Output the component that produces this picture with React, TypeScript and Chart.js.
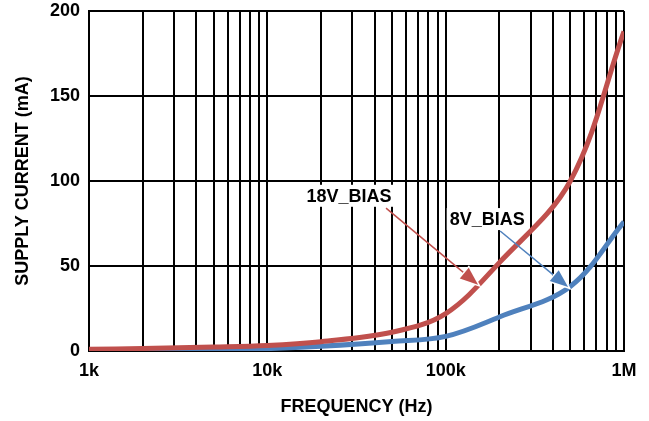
import React, { useEffect, useRef } from "react";
import { Chart, registerables } from "chart.js";

Chart.register(...registerables);

// Frequency points (Hz)
const FREQ_HZ = [1e3, 2e3, 5e3, 1e4, 2e4, 5e4, 1e5, 2e5, 5e5, 1e6];
// Supply current (mA)
const I_18V_BIAS = [1, 1.5, 2.3, 3.2, 5.5, 11, 22, 52, 100, 188];
const I_8V_BIAS = [0.3, 0.5, 0.9, 1.4, 2.8, 5.6, 8.6, 20, 38, 76];

// Axis definitions
const X_DECADES = [1e3, 1e4, 1e5];
const X_MULTIPLIERS = [1, 2, 3, 4, 5, 6, 7, 8, 9];
const X_MAX = 1e6;
const X_TICK_LABELS: Record<number, string> = { 1000: "1k", 10000: "10k", 100000: "100k", 1000000: "1M" };
const Y_MIN = 0;
const Y_MAX = 200;
const Y_STEP = 50;

const X_TITLE = "FREQUENCY (Hz)";
const Y_TITLE = "SUPPLY CURRENT (mA)";

// Callouts: label anchor and arrow (in data units: Hz, mA)
const LABEL_TEXT = ["18V_BIAS", "8V_BIAS"];
const LABEL_AT = [[28700, 91.3], [171000, 77.6]];
const ARROW_FROM = [[46300, 84], [202000, 70.6]];
const ARROW_TO = [[152000, 39], [486000, 37.6]];

const RED = "#C0504D";
const BLUE = "#4F81BD";
const FONT_FAMILY = '"Liberation Sans", Arial, sans-serif';

const gridValues = (): number[] => {
  const v: number[] = [];
  X_DECADES.forEach((d) => X_MULTIPLIERS.forEach((m) => v.push(d * m)));
  v.push(X_MAX);
  return v;
};

const calloutPlugin = {
  id: "callouts",
  afterDatasetsDraw(chart: any) {
    const { ctx } = chart;
    const xs = chart.scales.x;
    const ys = chart.scales.y;
    const colors = [RED, BLUE];
    ctx.save();
    LABEL_TEXT.forEach((text, i) => {
      const color = colors[i];
      const x0 = xs.getPixelForValue(ARROW_FROM[i][0]);
      const y0 = ys.getPixelForValue(ARROW_FROM[i][1]);
      const x1 = xs.getPixelForValue(ARROW_TO[i][0]);
      const y1 = ys.getPixelForValue(ARROW_TO[i][1]);
      const ang = Math.atan2(y1 - y0, x1 - x0);
      const headLen = 18;
      const headW = 7;
      const bx = x1 - headLen * Math.cos(ang);
      const by = y1 - headLen * Math.sin(ang);
      ctx.strokeStyle = color;
      ctx.lineWidth = 1.5;
      ctx.beginPath();
      ctx.moveTo(x0, y0);
      ctx.lineTo(bx, by);
      ctx.stroke();
      ctx.beginPath();
      ctx.moveTo(x1, y1);
      ctx.lineTo(bx + headW * Math.sin(ang), by - headW * Math.cos(ang));
      ctx.lineTo(bx - headW * Math.sin(ang), by + headW * Math.cos(ang));
      ctx.closePath();
      ctx.strokeStyle = "#ffffff";
      ctx.lineWidth = 3;
      ctx.stroke();
      ctx.fillStyle = color;
      ctx.fill();

      // label with white box
      const lx = xs.getPixelForValue(LABEL_AT[i][0]);
      const ly = ys.getPixelForValue(LABEL_AT[i][1]);
      ctx.font = `bold 18px ${FONT_FAMILY}`;
      const w = ctx.measureText(text).width;
      ctx.fillStyle = "#ffffff";
      ctx.fillRect(lx - w / 2 - 3, ly - 11, w + 6, 22);
      ctx.fillStyle = "#000000";
      ctx.textAlign = "center";
      ctx.textBaseline = "middle";
      ctx.fillText(text, lx, ly + 1);
    });
    ctx.restore();
  },
};

export default function App() {
  const canvasRef = useRef<HTMLCanvasElement | null>(null);

  useEffect(() => {
    const canvas = canvasRef.current;
    if (!canvas) return;
    const font = { family: FONT_FAMILY, size: 18, weight: "bold" as const };
    const chart = new Chart(canvas, {
      type: "line",
      data: {
        datasets: [
          {
            label: "18V_BIAS",
            data: FREQ_HZ.map((f, i) => ({ x: f, y: I_18V_BIAS[i] })),
            borderColor: RED,
            backgroundColor: RED,
            borderWidth: 5,
            pointRadius: 0,
            tension: 0.35,
            fill: false,
          },
          {
            label: "8V_BIAS",
            data: FREQ_HZ.map((f, i) => ({ x: f, y: I_8V_BIAS[i] })),
            borderColor: BLUE,
            backgroundColor: BLUE,
            borderWidth: 5,
            pointRadius: 0,
            tension: 0.35,
            fill: false,
          },
        ],
      },
      options: {
        animation: false,
        responsive: false,
        devicePixelRatio: 1,
        layout: { padding: { left: 0, top: 11, right: 25, bottom: 0 } },
        plugins: { legend: { display: false }, tooltip: { enabled: false } },
        scales: {
          x: {
            type: "logarithmic",
            min: X_DECADES[0],
            max: X_MAX,
            afterBuildTicks: (scale: any) => {
              scale.ticks = gridValues().map((v) => ({ value: v }));
            },
            afterFit: (scale: any) => {
              scale.height = 70;
              scale.paddingLeft = 0;
              scale.paddingRight = 0;
            },
            grid: { color: "#000000", lineWidth: 2, drawTicks: false },
            border: { color: "#000000", width: 2 },
            ticks: {
              autoSkip: false,
              maxRotation: 0,
              padding: 9,
              color: "#000000",
              font,
              callback: (v: any) => X_TICK_LABELS[Number(v)] ?? "",
            },
            title: {
              display: true,
              text: X_TITLE,
              color: "#000000",
              font,
              padding: { top: 0, bottom: 3 },
            },
          },
          y: {
            type: "linear",
            min: Y_MIN,
            max: Y_MAX,
            afterFit: (scale: any) => {
              scale.width = 89;
              scale.paddingTop = 0;
              scale.paddingBottom = 0;
            },
            grid: { color: "#000000", lineWidth: 2, drawTicks: false },
            border: { color: "#000000", width: 2 },
            ticks: {
              stepSize: Y_STEP,
              padding: 9,
              color: "#000000",
              font,
            },
            title: {
              display: true,
              text: Y_TITLE,
              color: "#000000",
              font,
              padding: { top: 12, bottom: 0 },
            },
          },
        },
      },
      plugins: [calloutPlugin],
    });
    return () => chart.destroy();
  }, []);

  return (
    <div style={{ position: "fixed", left: 0, top: 0, width: 649, height: 421, background: "#ffffff" }}>
      <canvas ref={canvasRef} width={649} height={421} style={{ display: "block", width: 649, height: 421 }} />
    </div>
  );
}
